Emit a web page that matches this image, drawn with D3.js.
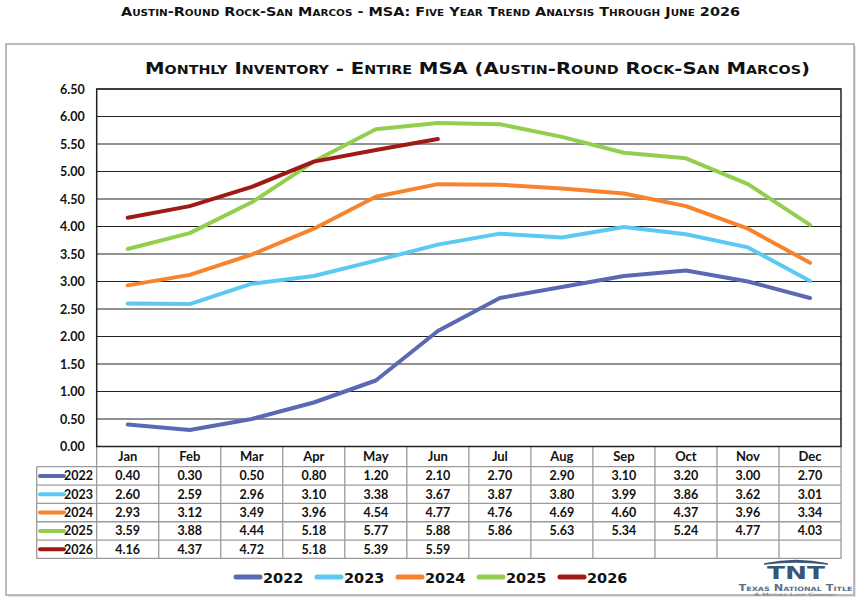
<!DOCTYPE html>
<html>
<head>
<meta charset="utf-8">
<script src="https://cdn.jsdelivr.net/npm/d3@7/dist/d3.min.js"></script>
<style>
  html, body { margin: 0; padding: 0; background: #fff; }
  svg { display: block; }
</style>
</head>
<body>
<svg id="chart" width="860" height="601"></svg>
<script>
// ---------- DATA ----------
const months = ["Jan","Feb","Mar","Apr","May","Jun","Jul","Aug","Sep","Oct","Nov","Dec"];
const years = ["2022","2023","2024","2025","2026"];
const v2022 = [0.40,0.30,0.50,0.80,1.20,2.10,2.70,2.90,3.10,3.20,3.00,2.70];
const v2023 = [2.60,2.59,2.96,3.10,3.38,3.67,3.87,3.80,3.99,3.86,3.62,3.01];
const v2024 = [2.93,3.12,3.49,3.96,4.54,4.77,4.76,4.69,4.60,4.37,3.96,3.34];
const v2025 = [3.59,3.88,4.44,5.18,5.77,5.88,5.86,5.63,5.34,5.24,4.77,4.03];
const v2026 = [4.16,4.37,4.72,5.18,5.39,5.59];
const yTicks = [0,0.5,1,1.5,2,2.5,3,3.5,4,4.5,5,5.5,6,6.5];
const colors = ["#5b69b2","#5bc9f1","#f7832d","#92cf4f","#9e1a16"];
const pageTitle = "Austin-Round Rock-San Marcos - MSA: Five Year Trend Analysis Through June 2026";
const chartTitle = "Monthly Inventory - Entire MSA (Austin-Round Rock-San Marcos)";

const series = years.map((y, i) => ({ year: y, values: [v2022, v2023, v2024, v2025, v2026][i], color: colors[i] }));

// ---------- LAYOUT ----------
const svg = d3.select("#chart");
const plot = { left: 96.7, right: 841, top: 89, bottom: 446.5 };
const rowH = 18.35;
const headerBottom = 466.7;

const x = d3.scaleBand().domain(months).range([plot.left, plot.right]);
const y = d3.scaleLinear().domain([0, 6.5]).range([plot.bottom, plot.top]);
const cx = m => x(m) + x.bandwidth() / 2;

// outer frame
svg.append("rect").attr("x", 8).attr("y", 46).attr("width", 848).attr("height", 551)
  .attr("fill", "#e4e4e4");
svg.append("rect").attr("x", 6).attr("y", 44).attr("width", 848).attr("height", 551)
  .attr("fill", "#fff").attr("stroke", "#a6a6a6").attr("stroke-width", 1.5);

// page title
svg.append("text").attr("x", 430.5).attr("y", 16).attr("text-anchor", "middle")
  .attr("font-family", "DejaVu Sans").attr("font-weight", "bold").attr("font-size", 12.5)
  .style("font-variant", "small-caps").attr("fill", "#111")
  .attr("textLength", 619).attr("lengthAdjust", "spacingAndGlyphs")
  .text(pageTitle);

// chart title
svg.append("text").attr("x", 477.5).attr("y", 74).attr("text-anchor", "middle")
  .attr("font-family", "DejaVu Sans").attr("font-weight", "bold").attr("font-size", 16.5)
  .style("font-variant", "small-caps").attr("fill", "#111")
  .attr("textLength", 665).attr("lengthAdjust", "spacingAndGlyphs")
  .text(chartTitle);

// gridlines
svg.append("g").selectAll("line").data(yTicks).join("line")
  .attr("x1", plot.left).attr("x2", plot.right)
  .attr("y1", d => y(d)).attr("y2", d => y(d))
  .attr("stroke", "#222").attr("stroke-width", 1);

// y axis labels
const yAxis = d3.axisLeft(y).tickValues(yTicks).tickFormat(d3.format(".2f")).tickSize(0).tickPadding(12);
const ga = svg.append("g").attr("transform", `translate(${plot.left},0)`).call(yAxis);
ga.select(".domain").remove();
ga.selectAll("text").attr("font-family", "Lato").attr("font-weight", "bold")
  .attr("font-size", 12.5).attr("fill", "#111");

// table
const tableColor = "#9a9a9a";
const nRows = years.length;
const tableBottom = headerBottom + nRows * rowH;
const tg = svg.append("g");
d3.range(nRows + 1).forEach(i => {
  tg.append("line").attr("x1", 36.7).attr("x2", plot.right)
    .attr("y1", headerBottom + i * rowH).attr("y2", headerBottom + i * rowH)
    .attr("stroke", tableColor).attr("stroke-width", 1.3);
});
months.forEach((m, i) => {
  tg.append("line").attr("x1", x(m)).attr("x2", x(m))
    .attr("y1", plot.bottom).attr("y2", tableBottom)
    .attr("stroke", tableColor).attr("stroke-width", 1.3);
});
tg.append("line").attr("x1", plot.right).attr("x2", plot.right)
  .attr("y1", plot.bottom).attr("y2", tableBottom).attr("stroke", tableColor).attr("stroke-width", 1.3);
tg.append("line").attr("x1", 36.7).attr("x2", 36.7)
  .attr("y1", headerBottom).attr("y2", tableBottom).attr("stroke", tableColor).attr("stroke-width", 1.3);

// month labels
tg.selectAll("text.month").data(months).join("text").attr("class", "month")
  .attr("x", d => cx(d)).attr("y", (plot.bottom + headerBottom) / 2 + 4.5)
  .attr("text-anchor", "middle").attr("font-family", "Lato").attr("font-weight", "bold")
  .attr("font-size", 13).attr("fill", "#111").text(d => d);

// rows
series.forEach((s, i) => {
  const ry = headerBottom + i * rowH + rowH / 2;
  tg.append("line").attr("x1", 40).attr("x2", 64).attr("y1", ry).attr("y2", ry)
    .attr("stroke", s.color).attr("stroke-width", 4).attr("stroke-linecap", "round");
  tg.append("text").attr("x", 93).attr("y", ry + 4.5).attr("text-anchor", "end")
    .attr("font-family", "Lato").attr("font-weight", "bold").attr("font-size", 12.5)
    .attr("fill", "#111").text(s.year);
  s.values.forEach((v, j) => {
    tg.append("text").attr("x", cx(months[j])).attr("y", ry + 4.5).attr("text-anchor", "middle")
      .attr("font-family", "Lato").attr("font-weight", "bold").attr("font-size", 12.5)
      .attr("fill", "#111").text(d3.format(".2f")(v));
  });
});

// lines
const line = d3.line().x((d, j) => cx(months[j])).y(d => y(d));
svg.append("g").selectAll("path").data(series).join("path")
  .attr("d", d => line(d.values)).attr("fill", "none")
  .attr("stroke", d => d.color).attr("stroke-width", 4)
  .attr("stroke-linecap", "round").attr("stroke-linejoin", "round");

// plot border
svg.append("rect").attr("x", plot.left).attr("y", plot.top)
  .attr("width", plot.right - plot.left).attr("height", plot.bottom - plot.top)
  .attr("fill", "none").attr("stroke", "#222").attr("stroke-width", 1.5);

// bottom legend
const lg = svg.append("g");
series.forEach((s, i) => {
  const x0 = 236 + i * 81;
  lg.append("line").attr("x1", x0).attr("x2", x0 + 24).attr("y1", 577).attr("y2", 577)
    .attr("stroke", s.color).attr("stroke-width", 5).attr("stroke-linecap", "round");
  lg.append("text").attr("x", x0 + 27).attr("y", 582.5)
    .attr("font-family", "DejaVu Sans").attr("font-weight", "bold").attr("font-size", 14.5)
    .attr("fill", "#111").text(s.year);
});

// logo
const logo = svg.append("g");
logo.append("path").attr("d", "M764,564 Q796,557 828,564 Q796,560 764,564 Z")
  .attr("fill", "#3a5677").attr("stroke", "#3a5677").attr("stroke-width", 1.5);
logo.append("text").attr("x", 796).attr("y", 579).attr("text-anchor", "middle")
  .attr("font-family", "DejaVu Sans").attr("font-weight", "bold").attr("font-size", 17)
  .attr("fill", "#3a5677").attr("textLength", 58).attr("lengthAdjust", "spacingAndGlyphs").text("TNT");
logo.append("text").attr("x", 795.5).attr("y", 590.5).attr("text-anchor", "middle")
  .attr("font-family", "DejaVu Sans").attr("font-weight", "bold").attr("font-size", 8.5)
  .style("font-variant", "small-caps").attr("fill", "#5a6f8c")
  .attr("textLength", 114).attr("lengthAdjust", "spacingAndGlyphs").text("Texas National Title");
logo.append("text").attr("x", 795).attr("y", 595.5).attr("text-anchor", "middle")
  .attr("font-family", "DejaVu Sans").attr("font-size", 4.5)
  .style("font-variant", "small-caps").attr("fill", "#6a7a90")
  .attr("textLength", 82).attr("lengthAdjust", "spacingAndGlyphs").text("A Mother Lode Company");
</script>
</body>
</html>
